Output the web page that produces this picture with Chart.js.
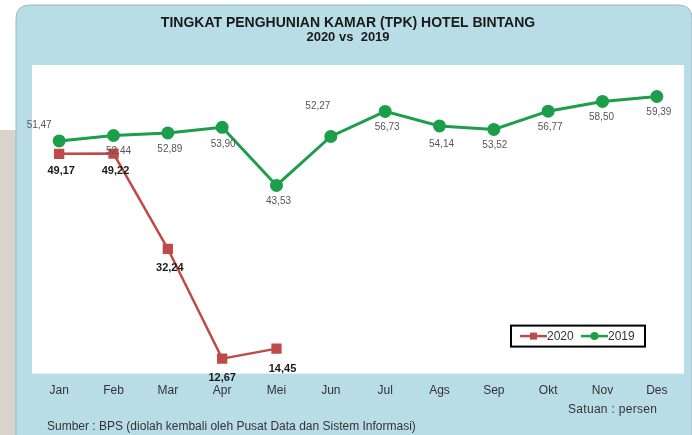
<!DOCTYPE html>
<html>
<head>
<meta charset="utf-8">
<style>
html,body{margin:0;padding:0;background:#fff;}
#wrap{width:692px;height:435px;position:relative;}
canvas{display:block;}
</style>
<script src="https://cdn.jsdelivr.net/npm/chart.js@4.4.1/dist/chart.umd.min.js"></script>
</head>
<body>
<div id="wrap"><canvas id="c" width="692" height="435"></canvas></div>
<script>
const months = ['Jan','Feb','Mar','Apr','Mei','Jun','Jul','Ags','Sep','Okt','Nov','Des'];
const tpk2020 = [49.17, 49.22, 32.24, 12.67, 14.45, null, null, null, null, null, null, null];
const tpk2019 = [51.47, 52.44, 52.89, 53.90, 43.53, 52.27, 56.73, 54.14, 53.52, 56.77, 58.50, 59.39];
const titleLines = ['TINGKAT PENGHUNIAN KAMAR (TPK) HOTEL BINTANG', '2020 vs  2019'];
const sourceText = 'Sumber : BPS (diolah kembali oleh Pusat Data dan Sistem Informasi)';
const unitText = 'Satuan : persen';

const fmt = v => v.toFixed(2).replace('.', ',');

const bgPlugin = {
  id: 'bg',
  beforeDraw(chart) {
    const ctx = chart.ctx, W = chart.width, H = chart.height, a = chart.chartArea;
    ctx.save();
    ctx.fillStyle = '#ffffff';
    ctx.fillRect(0, 0, W, H);
    ctx.fillStyle = '#d7d4cd';
    ctx.fillRect(0, 130, 18, H - 130);
    const x0 = 16, y0 = 5, r = 14;
    ctx.beginPath();
    ctx.moveTo(x0, H + 2);
    ctx.lineTo(x0, y0 + r);
    ctx.quadraticCurveTo(x0, y0, x0 + r, y0);
    ctx.lineTo(W - r, y0);
    ctx.quadraticCurveTo(W, y0, W, y0 + r);
    ctx.lineTo(W, H + 2);
    ctx.closePath();
    ctx.fillStyle = '#b9dde7';
    ctx.fill();
    ctx.strokeStyle = '#9fb8bf';
    ctx.lineWidth = 1;
    ctx.stroke();
    ctx.fillStyle = '#ffffff';
    ctx.fillRect(a.left, a.top, a.right - a.left, a.bottom - a.top);
    ctx.fillStyle = '#1a1a1a';
    ctx.textAlign = 'center';
    ctx.textBaseline = 'middle';
    ctx.font = 'bold 14px "Liberation Sans", Arial, sans-serif';
    try { ctx.letterSpacing = '0px'; } catch (e) {}
    ctx.fillText(titleLines[0], 348, 23);
    ctx.font = 'bold 13px "Liberation Sans", Arial, sans-serif';
    ctx.fillText(titleLines[1], 348, 37);
    ctx.fillStyle = '#333333';
    ctx.font = '12px "Liberation Sans", Arial, sans-serif';
    ctx.textAlign = 'left';
    ctx.fillText(sourceText, 47, 427);
    try { ctx.letterSpacing = '0.3px'; } catch (e) {}
    ctx.fillText(unitText, 568, 410);
    ctx.restore();
  }
};

const labelPlugin = {
  id: 'valLabels',
  afterDatasetsDraw(chart, args, opts) {
    const ctx = chart.ctx;
    ctx.save();
    ctx.textAlign = 'center';
    ctx.textBaseline = 'middle';
    chart.data.datasets.forEach((ds, di) => {
      const meta = chart.getDatasetMeta(di);
      const st = opts.styles[di];
      ctx.font = st.font;
      ctx.fillStyle = st.color;
      meta.data.forEach((pt, i) => {
        const v = ds.data[i];
        if (v === null || v === undefined) return;
        const off = st.offsets[i] || [2, 16];
        ctx.fillText(fmt(v), pt.x + off[0], pt.y + off[1]);
      });
    });
    ctx.restore();
  }
};

const legendPlugin = {
  id: 'boxLegend',
  afterDraw(chart) {
    const ctx = chart.ctx, a = chart.chartArea;
    const bx = a.right - 173, by = a.bottom - 48, bw = 134, bh = 21;
    ctx.save();
    ctx.fillStyle = '#fff';
    ctx.fillRect(bx, by, bw, bh);
    ctx.strokeStyle = '#000';
    ctx.lineWidth = 2;
    ctx.strokeRect(bx, by, bw, bh);
    const cy = by + bh / 2;
    let x = bx + 9;
    ctx.font = '12px "Liberation Sans", Arial, sans-serif';
    ctx.textBaseline = 'middle';
    ctx.textAlign = 'left';
    chart.data.datasets.forEach(ds => {
      ctx.strokeStyle = ds.borderColor;
      ctx.lineWidth = 2.5;
      ctx.beginPath();
      ctx.moveTo(x, cy);
      ctx.lineTo(x + 27, cy);
      ctx.stroke();
      ctx.fillStyle = ds.pointBackgroundColor;
      if (ds.pointStyle === 'rect') {
        ctx.fillRect(x + 10, cy - 3.5, 7, 7);
      } else {
        ctx.beginPath();
        ctx.arc(x + 13.5, cy, 4, 0, Math.PI * 2);
        ctx.fill();
      }
      ctx.fillStyle = '#333';
      ctx.fillText(ds.label, x + 27, cy + 0.5);
      x += 61;
    });
    ctx.restore();
  }
};

new Chart(document.getElementById('c'), {
  type: 'line',
  data: {
    labels: months,
    datasets: [
      {
        label: '2020',
        data: tpk2020,
        borderColor: '#be4b48',
        backgroundColor: '#be4b48',
        pointBackgroundColor: '#be4b48',
        pointBorderColor: '#be4b48',
        borderWidth: 2.5,
        pointStyle: 'rect',
        pointRadius: 5.5,
        spanGaps: false,
        tension: 0
      },
      {
        label: '2019',
        data: tpk2019,
        borderColor: '#1c9e4a',
        backgroundColor: '#1c9e4a',
        pointBackgroundColor: '#1c9e4a',
        pointBorderColor: '#1c9e4a',
        borderWidth: 3,
        pointStyle: 'circle',
        pointRadius: 5,
        tension: 0
      }
    ]
  },
  options: {
    responsive: false,
    animation: false,
    events: [],
    layout: { padding: { left: 32, right: 7, top: 65, bottom: 35 } },
    plugins: {
      legend: { display: false },
      title: { display: false },
      tooltip: { enabled: false },
      valLabels: {
        styles: [
          { font: 'bold 11px "Liberation Sans", Arial, sans-serif', color: '#1a1a1a',
            offsets: [[2, 17], [2, 17], [2, 19], [0, 19], [6, 20]] },
          { font: '10px "Liberation Sans", Arial, sans-serif', color: '#555555',
            offsets: [[-20, -16], [5, 16], [2, 16], [1, 17], [2, 16], [-13, -30], [2, 16], [2, 18], [1, 16], [2, 16], [-1, 16], [2, 16]] }
        ]
      }
    },
    scales: {
      x: {
        offset: true,
        grid: { display: false },
        border: { display: false },
        ticks: { color: '#333333', padding: 2, font: { size: 12, family: '"Liberation Sans", Arial, sans-serif' }, maxRotation: 0 }
      },
      y: {
        display: false,
        min: 10,
        max: 65
      }
    }
  },
  plugins: [bgPlugin, labelPlugin, legendPlugin]
});
</script>
</body>
</html>
